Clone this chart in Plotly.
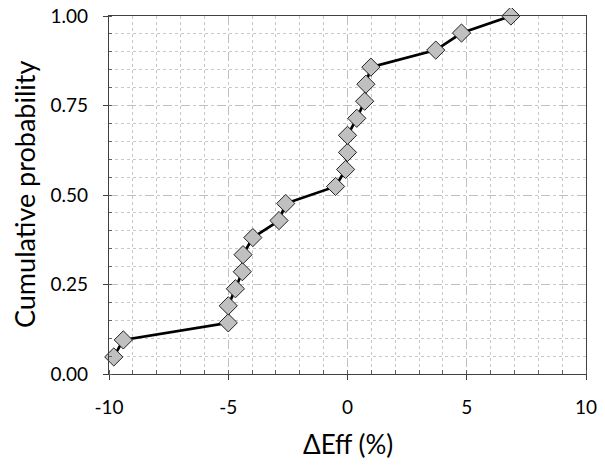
import plotly.graph_objects as go

delta_eff = [-9.80, -9.40, -5.00, -5.00, -4.70, -4.41, -4.38, -3.97, -2.87, -2.59,
             -0.50, -0.08, 0.00, 0.00, 0.39, 0.72, 0.77, 0.98, 3.70, 4.78, 6.85]
cum_prob = [0.0476, 0.0952, 0.1429, 0.1905, 0.2381, 0.2857, 0.3333, 0.3810, 0.4286, 0.4762,
            0.5238, 0.5714, 0.6190, 0.6667, 0.7143, 0.7619, 0.8095, 0.8571, 0.9048, 0.9524, 1.0]

x_ticks = [-10, -5, 0, 5, 10]
y_ticks = [0.0, 0.25, 0.5, 0.75, 1.0]
x_title = "ΔEff (%)"
y_title = "Cumulative probability"

font_family = "Lato, 'Open Sans', sans-serif"

fig = go.Figure()
fig.add_trace(go.Scatter(
    x=delta_eff, y=cum_prob, mode="lines+markers",
    line=dict(color="black", width=2.7),
    marker=dict(symbol="diamond", size=14, color="#c0c0c0",
                line=dict(color="#222222", width=1)),
    showlegend=False, cliponaxis=False,
))

# page has an 8px body margin; size the figure to fit the 605x468 window
fig.update_layout(
    width=589, height=452,
    margin=dict(l=101, r=11, t=8, b=86),
    paper_bgcolor="white", plot_bgcolor="white",
    font=dict(family=font_family, color="black", size=19),
)
fig.update_xaxes(
    range=[-10, 10], tickvals=x_ticks, ticktext=[str(v) for v in x_ticks],
    showline=True, linecolor="#404040", linewidth=1.3, mirror=True,
    ticks="outside", ticklen=5, tickcolor="#404040",
    ticklabelstandoff=11, ticklabeloverflow="allow",
    showgrid=True, gridcolor="#c0c0c0", griddash="dash", gridwidth=1,
    zeroline=False, automargin=False,
    minor=dict(dtick=1, showgrid=True, gridcolor="#c8c8c8", griddash="dot",
               ticks="inside", ticklen=4, tickcolor="#606060"),
    tickfont=dict(size=19),
)
fig.update_yaxes(
    range=[0, 1], tickvals=y_ticks, ticktext=[f"{v:.2f}" for v in y_ticks],
    showline=True, linecolor="#404040", linewidth=1.3, mirror=True,
    ticks="outside", ticklen=5, tickcolor="#404040",
    ticklabelstandoff=11, ticklabeloverflow="allow",
    showgrid=True, gridcolor="#c0c0c0", griddash="dash", gridwidth=1,
    zeroline=False, automargin=False,
    minor=dict(dtick=0.05, showgrid=True, gridcolor="#c8c8c8", griddash="dot",
               ticks="inside", ticklen=3, tickcolor="#606060"),
    tickfont=dict(size=19),
)

fig.add_annotation(text=x_title, xref="paper", yref="paper", x=0.5, y=0,
                   xanchor="center", yanchor="middle", yshift=-70,
                   showarrow=False, font=dict(size=26))
fig.add_annotation(text=y_title, xref="paper", yref="paper", x=0, y=0.5,
                   xanchor="center", yanchor="middle", xshift=-85, textangle=-90,
                   showarrow=False, font=dict(size=27))

fig.write_html("out.html")
